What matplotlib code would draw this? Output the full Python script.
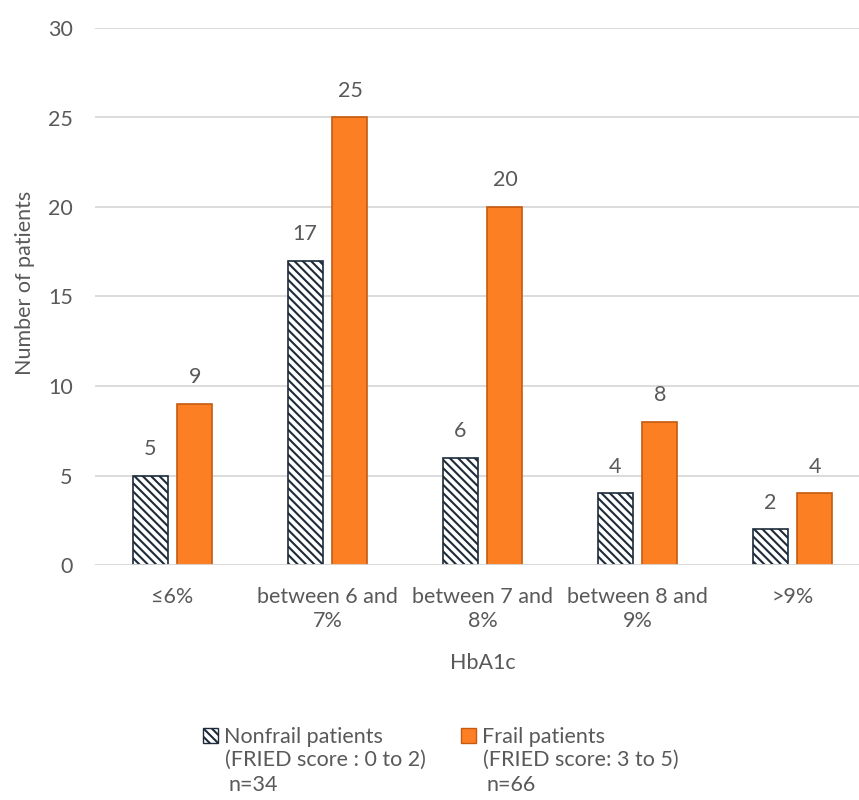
import matplotlib.pyplot as plt
from matplotlib.patches import Patch
import numpy as np

categories = ["≤6%", "between 6 and\n7%", "between 7 and\n8%", "between 8 and\n9%", ">9%"]
nonfrail = [5, 17, 6, 4, 2]
frail = [9, 25, 20, 8, 4]

grey = "#595959"
navy = "#2a4566"
orange = "#fd7f23"
fs = 15.5

plt.rcParams["font.family"] = ["Lato", "DejaVu Sans"]
plt.rcParams["hatch.color"] = navy
plt.rcParams["hatch.linewidth"] = 1.5

fig = plt.figure(figsize=(8.59, 8.0), dpi=100)
ax = fig.add_axes([95 / 859, 235 / 800, 775 / 859, 537 / 800])

x = np.arange(len(categories))
w = 0.226
off = 0.145
b1 = ax.bar(x - off, nonfrail, w, facecolor="white", edgecolor="#1d2b3a",
            hatch="\\\\\\\\", linewidth=1.2, zorder=3)
b2 = ax.bar(x + off, frail, w, facecolor=orange, edgecolor="#c55a11",
            linewidth=1.2, zorder=3)
ax.bar_label(b1, padding=12, fontsize=fs, color=grey)
ax.bar_label(b2, padding=12, fontsize=fs, color=grey)

ax.set_xlim(-0.5, len(categories) - 0.5)
ax.set_ylim(0, 30)
ax.set_yticks(range(0, 31, 5))
ax.set_xticks(x)
ax.set_xticklabels(categories, linespacing=1.25)
ax.tick_params(axis="both", length=0, labelsize=fs, labelcolor=grey)
ax.tick_params(axis="y", pad=16)
ax.tick_params(axis="x", pad=16)
ax.yaxis.grid(True, color="#d9d9d9", linewidth=1.3, zorder=0)
for s in ax.spines.values():
    s.set_visible(False)
ax.axhline(0, color="#d9d9d9", linewidth=1.3, zorder=4)

ax.set_xlabel("HbA1c", fontsize=fs, color=grey, labelpad=16)
ax.set_ylabel("Number of patients", fontsize=fs, color=grey)
ax.yaxis.set_label_coords(-0.077, 0.525)

# legend: one line per entry, then the details underneath
handles = [Patch(facecolor="white", edgecolor="#1d2b3a", hatch="\\\\\\\\"),
           Patch(facecolor=orange, edgecolor="#c55a11")]
fig.legend(handles, ["Nonfrail patients", "Frail patients"], ncol=2,
           loc="upper left", bbox_to_anchor=(192 / 859, 1 - 716 / 800),
           frameon=False, fontsize=fs, labelcolor=grey,
           handlelength=0.7, handleheight=0.7, handletextpad=0.3,
           columnspacing=3.6, borderpad=0)
fig.text(225 / 859, 1 - 760 / 800, "(FRIED score : 0 to 2)", fontsize=fs,
         color=grey, va="center")
fig.text(229 / 859, 1 - 785 / 800, "n=34", fontsize=fs, color=grey, va="center")
fig.text(483 / 859, 1 - 760 / 800, "(FRIED score: 3 to 5)", fontsize=fs,
         color=grey, va="center")
fig.text(487 / 859, 1 - 785 / 800, "n=66", fontsize=fs, color=grey, va="center")

fig.savefig("out.png", dpi=100)
